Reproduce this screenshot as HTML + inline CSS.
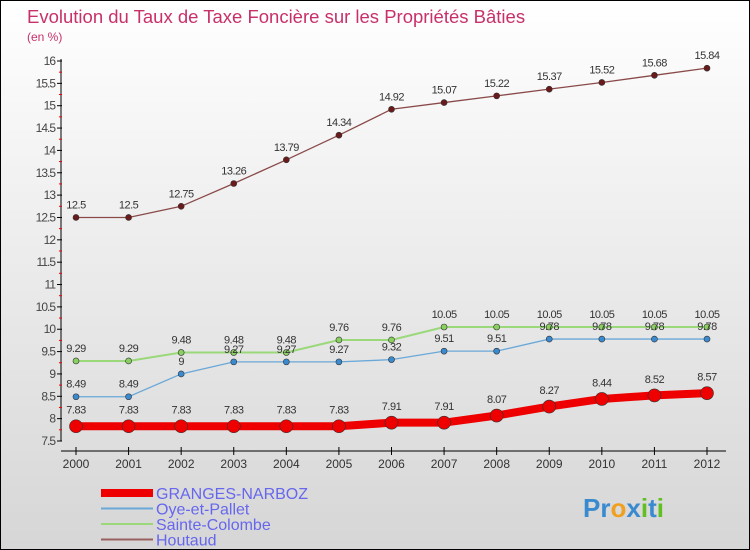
<!DOCTYPE html>
<html><head><meta charset="utf-8"><style>
body{margin:0}
#c{width:750px;height:550px;position:relative;box-sizing:border-box;border:1px solid #000;background:linear-gradient(#ffffff,#d6d6d6);font-family:"Liberation Sans",sans-serif;overflow:hidden}
svg{position:absolute;left:0;top:0}
</style></head><body>
<div id="c">
<svg id="s" width="750" height="550"></svg>
</div>
<script>
const years=[2000,2001,2002,2003,2004,2005,2006,2007,2008,2009,2010,2011,2012];
const granges=[7.83,7.83,7.83,7.83,7.83,7.83,7.91,7.91,8.07,8.27,8.44,8.52,8.57];
const oye=[8.49,8.49,9,9.27,9.27,9.27,9.32,9.51,9.51,9.78,9.78,9.78,9.78];
const sainte=[9.29,9.29,9.48,9.48,9.48,9.76,9.76,10.05,10.05,10.05,10.05,10.05,10.05];
const houtaud=[12.5,12.5,12.75,13.26,13.79,14.34,14.92,15.07,15.22,15.37,15.52,15.68,15.84];
const yTicks=[7.5,8,8.5,9,9.5,10,10.5,11,11.5,12,12.5,13,13.5,14,14.5,15,15.5,16];
const seriesNames=["GRANGES-NARBOZ","Oye-et-Pallet","Sainte-Colombe","Houtaud"];
const S=document.getElementById('s');const NS="http://www.w3.org/2000/svg";
function x(i){return 75+i*(706-75)/(years.length-1);}
function y(v){return 440-(v-7.5)*(380/8.5);}
function mk(t,a,name,parent){const e=document.createElementNS(NS,t);for(const k in a)e.setAttribute(k,a[k]);


(parent||S).appendChild(e);return e;}
function tx(s,a,name){const e=mk('text',a,name);e.textContent=s;return e;}
tx("Evolution du Taux de Taxe Foncière sur les Propriétés Bâties",{x:26,y:22,fill:"#c8306a","font-size":18.5},"chart-title");
tx("(en %)",{x:26,y:40,fill:"#c8306a","font-size":12},"y-unit-label");
mk('line',{x1:60,y1:58,x2:60,y2:440,stroke:"#000","stroke-width":1},"y-axis");
yTicks.forEach((t,i)=>{const yy=y(t);mk('line',{x1:56,y1:yy,x2:61,y2:yy,stroke:"#000"},"y-tick");
tx(String(t),{x:54,y:yy+4,"text-anchor":"end","font-size":12,fill:"#444","letter-spacing":"-1"},"y-tick-label");
if(i<yTicks.length-1)mk('line',{x1:58,y1:yy-11.2,x2:61,y2:yy-11.2,stroke:"#e00"},"y-minor-tick");});
mk('line',{x1:60,y1:450,x2:725,y2:450,stroke:"#000"},"x-axis");
years.forEach((yr,i)=>{mk('line',{x1:x(i),y1:446,x2:x(i),y2:454,stroke:"#000"},"x-tick");
tx(String(yr),{x:x(i),y:467,"text-anchor":"middle","font-size":12,fill:"#333"},"x-tick-label");});
function series(d,col,w,r,dot,name){const g=mk('g',{},name+"-series");
mk('polyline',{points:d.map((v,i)=>x(i)+","+y(v)).join(" "),fill:"none",stroke:col,"stroke-width":w},name+"-line",g);
d.forEach((v,i)=>{mk('circle',{cx:x(i),cy:y(v),r:r,fill:dot,stroke:"#333","stroke-width":0.6},name+"-point",g);
const t=mk('text',{x:x(i),y:y(v)-(r+6),"text-anchor":"middle","font-size":11,fill:"#333","letter-spacing":"-0.5"},name+"-value-label",g);t.textContent=String(v);});}
series(houtaud,"#8a4a4a",1.3,3,"#6a1a1a","houtaud");
series(sainte,"#9ad87a",2,3,"#8ad060","sainte-colombe");
series(oye,"#6aa8d8",1.3,3,"#3a8ad0","oye-et-pallet");
series(granges,"#ee0000",8,6.5,"#ee0000","granges-narboz");
const lc=["#ee0000","#6aa8d8","#9ad87a","#9a6060"],lw=[8,2,2,2];
seriesNames.forEach((n,i)=>{const yy=492+i*15.5;
mk('line',{x1:100,y1:yy,x2:152,y2:yy,stroke:lc[i],"stroke-width":lw[i]},"legend-swatch");
tx(n,{x:155,y:yy+6,"font-size":16,fill:"#6666ee"},"legend-entry");});
const p=tx("",{x:582,y:516,"font-size":26,"font-weight":"bold"},"logo");
[["P","#3a8ad0"],["r","#3a8ad0"],["o","#f0a020"],["x","#3a8ad0"],["i","#60c020"],["t","#3a8ad0"],["i","#60c020"]].forEach(c=>{const s=document.createElementNS(NS,'tspan');s.setAttribute('fill',c[1]);s.textContent=c[0];p.appendChild(s);});
</script>
</body></html>
